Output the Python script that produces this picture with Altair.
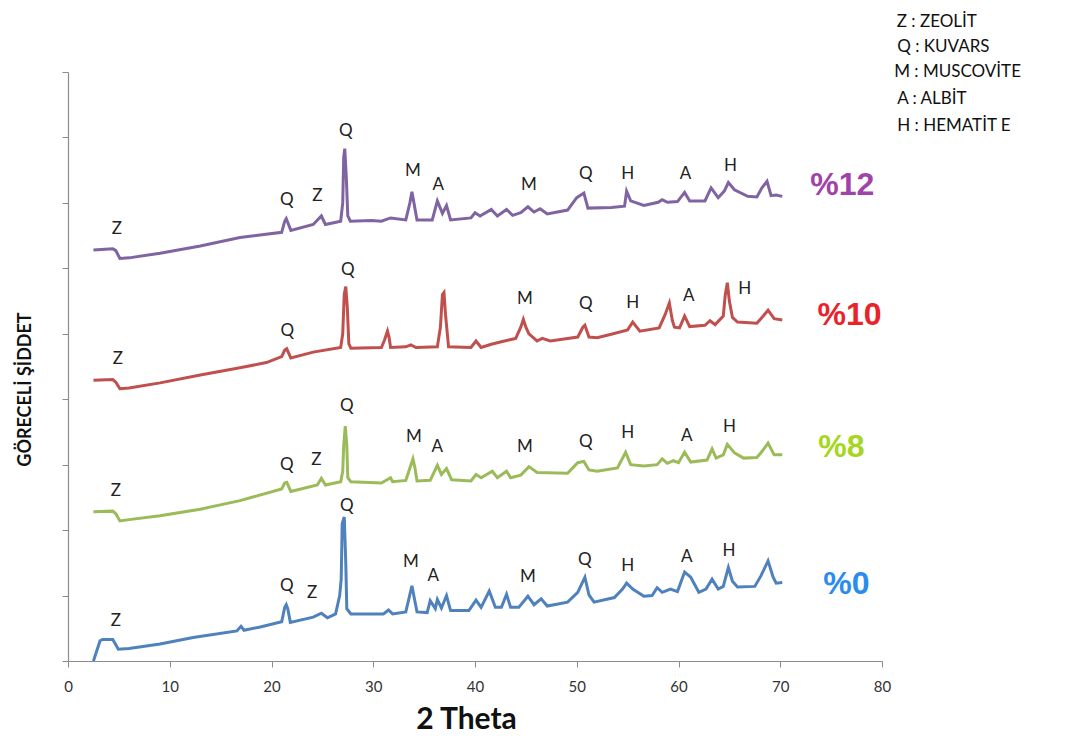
import altair as alt
import pandas as pd

# ---- traces (2-theta, relative intensity incl. vertical offset) ----
theta_0 = [2.5, 3.15, 3.4, 4.4, 4.95, 6.0, 9.05, 12.3, 16.6, 17.0, 17.3, 18.9, 21.0, 21.3, 21.45, 21.6, 21.85,
           24.1, 24.9, 25.5, 26.3, 26.7, 26.85, 26.95, 27.15, 27.3, 27.4, 27.8, 31.0, 31.5, 31.9, 33.2, 33.8, 34.3,
           35.3, 35.6, 36.1, 36.3, 36.7, 37.2, 37.6, 39.4, 40.1, 40.6, 41.4, 42.0, 42.6, 43.1, 43.5, 44.3, 45.2,
           45.8, 46.5, 47.1, 49.1, 50.1, 50.8, 51.2, 51.7, 53.7, 54.5, 54.9, 55.5, 56.6, 57.4, 57.9, 58.4, 59.2,
           59.9, 60.6, 61.2, 62.0, 62.7, 63.3, 63.9, 64.4, 64.9, 65.3, 65.8, 67.5, 68.1, 68.8, 69.3, 69.6, 70.2]
int_0 = [0.0, 0.31, 0.33, 0.33, 0.18, 0.19, 0.26, 0.36, 0.46, 0.53, 0.47, 0.52, 0.6, 0.82, 0.86, 0.8, 0.59,
         0.67, 0.73, 0.66, 0.72, 1.0, 1.25, 2.1, 2.2, 1.5, 0.8, 0.72, 0.72, 0.78, 0.72, 0.75, 1.15, 0.75,
         0.74, 0.92, 0.8, 0.94, 0.81, 1.0, 0.77, 0.77, 0.93, 0.82, 1.07, 0.82, 0.82, 1.02, 0.82, 0.82, 0.99,
         0.86, 0.95, 0.84, 0.9, 1.05, 1.28, 1.01, 0.9, 0.97, 1.1, 1.19, 1.1, 0.99, 1.0, 1.12, 1.05, 1.1,
         1.06, 1.36, 1.28, 1.05, 1.1, 1.25, 1.1, 1.14, 1.43, 1.22, 1.13, 1.14, 1.3, 1.53, 1.28, 1.19, 1.2]

theta_8 = [2.5, 4.4, 4.7, 5.1, 6.0, 9.05, 13.0, 16.9, 21.0, 21.3, 21.5, 21.7, 21.9, 24.5, 24.9, 25.3, 26.8,
           27.0, 27.1, 27.25, 27.4, 27.5, 27.8, 30.8, 31.7, 31.9, 33.2, 33.6, 33.9, 34.1, 34.3, 35.6, 36.3,
           36.7, 37.2, 37.7, 39.6, 40.1, 40.6, 41.7, 42.2, 43.1, 43.5, 44.5, 45.3, 46.1, 49.1, 50.1, 50.7,
           51.2, 52.0, 54.0, 54.8, 55.3, 56.6, 57.9, 58.4, 58.9, 59.5, 60.0, 60.6, 61.2, 62.8, 63.3, 63.7,
           64.4, 64.8, 65.5, 66.4, 67.7, 68.2, 68.8, 69.4, 70.2]
int_8 = [2.28, 2.29, 2.25, 2.14, 2.16, 2.22, 2.32, 2.45, 2.63, 2.72, 2.73, 2.66, 2.59, 2.69, 2.79, 2.69, 2.74,
         2.9, 3.3, 3.59, 3.3, 2.8, 2.74, 2.72, 2.8, 2.74, 2.76, 2.95, 3.09, 2.95, 2.75, 2.76, 2.99,
         2.85, 2.94, 2.77, 2.75, 2.85, 2.8, 2.9, 2.8, 2.9, 2.8, 2.84, 2.97, 2.88, 2.87, 3.03, 3.05,
         2.92, 2.9, 2.95, 3.19, 3.0, 2.98, 3.0, 3.09, 3.02, 3.06, 3.03, 3.19, 3.04, 3.07, 3.24, 3.1,
         3.15, 3.31, 3.18, 3.1, 3.11, 3.2, 3.33, 3.15, 3.15]

theta_10 = [2.5, 4.4, 4.7, 5.1, 6.0, 9.05, 13.0, 16.9, 19.5, 21.0, 21.3, 21.5, 21.7, 21.9, 24.1, 26.8, 27.0,
            27.15, 27.3, 27.45, 27.6, 27.8, 30.8, 31.1, 31.4, 31.55, 31.7, 33.2, 33.7, 34.2, 36.3, 36.6, 36.8,
            36.95, 37.1, 37.4, 39.6, 40.1, 40.6, 41.6, 42.9, 44.0, 44.5, 44.75, 45.0, 45.3, 46.1, 46.6, 47.4,
            50.1, 50.6, 50.8, 51.2, 52.0, 53.3, 55.0, 55.5, 56.2, 58.1, 58.7, 59.1, 59.4, 59.6, 60.1, 60.6,
            61.1, 62.6, 63.1, 63.6, 64.4, 64.6, 64.8, 65.0, 65.3, 65.8, 67.7, 68.2, 68.8, 69.4, 70.2]
int_10 = [4.29, 4.3, 4.26, 4.16, 4.17, 4.25, 4.37, 4.48, 4.56, 4.65, 4.75, 4.77, 4.7, 4.63, 4.72, 4.79, 5.0,
          5.6, 5.72, 5.4, 4.85, 4.78, 4.79, 4.9, 5.04, 4.95, 4.79, 4.8, 4.83, 4.79, 4.8, 5.1, 5.6,
          5.63, 5.3, 4.8, 4.79, 4.89, 4.79, 4.84, 4.89, 4.93, 5.1, 5.22, 5.1, 5.0, 4.89, 4.93, 4.89,
          4.95, 5.1, 5.13, 4.95, 4.94, 4.99, 5.06, 5.18, 5.04, 5.09, 5.3, 5.47, 5.2, 5.1, 5.09, 5.27,
          5.11, 5.13, 5.2, 5.14, 5.27, 5.6, 5.78, 5.5, 5.25, 5.18, 5.16, 5.25, 5.36, 5.23, 5.21]

theta_12 = [2.5, 4.4, 4.7, 5.1, 6.0, 9.05, 13.0, 16.9, 21.0, 21.3, 21.45, 21.6, 21.9, 24.1, 24.9, 25.3, 26.8,
            27.0, 27.1, 27.2, 27.35, 27.5, 27.75, 29.8, 30.8, 31.7, 33.2, 33.6, 33.8, 34.0, 34.3, 35.8, 36.3,
            36.8, 37.2, 37.6, 39.6, 40.0, 40.5, 41.6, 42.2, 43.1, 43.7, 44.5, 45.2, 45.8, 46.4, 47.1, 49.1,
            50.0, 50.7, 51.1, 53.4, 54.7, 54.9, 55.3, 56.6, 58.0, 58.4, 58.9, 59.9, 60.6, 61.1, 62.6, 63.2,
            63.9, 64.5, 64.9, 65.5, 66.8, 67.7, 68.2, 68.7, 69.1, 69.6, 70.2]
int_12 = [6.28, 6.3, 6.27, 6.15, 6.16, 6.23, 6.34, 6.47, 6.55, 6.72, 6.76, 6.7, 6.58, 6.67, 6.8, 6.67, 6.72,
          7.0, 7.7, 7.83, 7.4, 6.8, 6.72, 6.73, 6.72, 6.77, 6.74, 7.0, 7.17, 7.0, 6.74, 6.74, 7.03,
          6.84, 6.96, 6.74, 6.77, 6.85, 6.8, 6.9, 6.8, 6.9, 6.81, 6.85, 6.94, 6.86, 6.91, 6.83, 6.89,
          7.08, 7.15, 6.92, 6.93, 6.95, 7.18, 7.03, 6.96, 7.01, 7.05, 7.01, 7.02, 7.16, 7.03, 7.03, 7.23,
          7.08, 7.18, 7.31, 7.2, 7.1, 7.09, 7.23, 7.33, 7.11, 7.12, 7.1]

series_names = ["%0", "%8", "%10", "%12"]
line_colors = ["#4f81bd", "#9bbb59", "#c0504d", "#8064a2"]
label_colors = ["#2b8cf0", "#a6d71e", "#e8232b", "#a043a8"]
label_x = [76.5, 76.0, 76.8, 76.1]
label_y = [1.18, 3.27, 5.28, 7.28]

# ---- phase annotations ----
ann_letter = ["Z", "Q", "Z", "Q", "M", "A", "M", "Q", "H", "A", "H",
              "Z", "Q", "Z", "Q", "M", "A", "M", "Q", "H", "A", "H",
              "Z", "Q", "Q", "M", "Q", "H", "A", "H",
              "Z", "Q", "Z", "Q", "M", "A", "M", "Q", "H", "A", "H"]
ann_x = [4.7, 21.5, 24.0, 27.4, 33.7, 35.9, 45.2, 50.8, 55.0, 60.8, 64.95,
         4.7, 21.5, 24.4, 27.4, 34.0, 36.3, 44.9, 50.9, 55.0, 60.8, 65.0,
         4.9, 21.55, 27.5, 44.9, 50.9, 55.5, 61.0, 66.5,
         4.8, 21.5, 24.5, 27.3, 33.9, 36.4, 45.3, 50.9, 55.0, 60.7, 65.1]
ann_y = [0.61, 1.15, 1.04, 2.37, 1.51, 1.30, 1.28, 1.54, 1.45, 1.59, 1.68,
         2.60, 3.00, 3.07, 3.89, 3.42, 3.27, 3.27, 3.34, 3.48, 3.44, 3.57,
         4.61, 5.05, 5.98, 5.53, 5.45, 5.47, 5.57, 5.69,
         6.60, 7.04, 7.11, 8.10, 7.48, 7.28, 7.28, 7.44, 7.44, 7.44, 7.57]

key_text = ["Z : ZEOLİT", "Q : KUVARS", "M : MUSCOVİTE", "A : ALBİT", "H : HEMATİT E"]
key_x = [81.45, 81.5, 81.2, 81.5, 81.5]
key_y = [9.76, 9.38, 9.0, 8.58, 8.18]

rows = []
for name, xs_, ys_ in zip(series_names, [theta_0, theta_8, theta_10, theta_12], [int_0, int_8, int_10, int_12]):
    for a, b in zip(xs_, ys_):
        rows.append({"series": name, "theta": a, "intensity": b})
df = pd.DataFrame(rows)

ann_df = pd.DataFrame({"letter": ann_letter, "theta": ann_x, "intensity": ann_y})
lab_df = pd.DataFrame({"name": series_names, "theta": label_x, "intensity": label_y, "col": label_colors})
key_df = pd.DataFrame({"t": key_text, "theta": key_x, "intensity": key_y})

xs = alt.Scale(domain=[0, 80], nice=False, zero=False)
ys = alt.Scale(domain=[0, 9], nice=False, zero=False)

x_axis = alt.Axis(values=list(range(0, 81, 10)), title="2 Theta", grid=False, labelFlush=False,
                  labelPadding=12, titleFontSize=30, titleFontWeight="bold",
                  titleX=398, titleY=43, titleColor="#111")
y_axis = alt.Axis(values=list(range(0, 10)), labels=False, title="GÖRECELİ ŞİDDET", grid=False,
                  titleFontSize=18, titleFontWeight="bold", titleX=-34, titleY=317,
                  titleColor="#111")

X = alt.X("theta:Q", scale=xs, axis=x_axis, title="2 Theta")
Y = alt.Y("intensity:Q", scale=ys, axis=y_axis, title="GÖRECELİ ŞİDDET")

lines = alt.Chart(df).mark_line(strokeWidth=3, clip=False).encode(
    x=X, y=Y,
    color=alt.Color("series:N", scale=alt.Scale(domain=series_names, range=line_colors), legend=None),
)

ann = alt.Chart(ann_df).mark_text(font="Lato", fontSize=17, color="#222", baseline="middle", align="center").encode(
    x=X, y=Y, text="letter:N",
)

labs = alt.Chart(lab_df).mark_text(font="Liberation Sans", fontSize=32, fontWeight="bold",
                                   baseline="middle", align="center").encode(
    x=X, y=Y, text="name:N",
    color=alt.Color("col:N", scale=None),
)

keys = alt.Chart(key_df).mark_text(font="Lato", fontSize=17, color="#111", baseline="middle", align="left").encode(
    x=X, y=Y, text="t:N",
)

chart = alt.layer(lines, ann, labs, keys).resolve_scale(color="independent").properties(
    width=814, height=589,
    autosize=alt.AutoSizeParams(type="none"),
    padding={"left": 60, "top": 64, "right": 170, "bottom": 74},
).configure_view(stroke=None).configure_axis(
    domainColor="#8c8c8c", tickColor="#8c8c8c", tickSize=6, domainWidth=1.2,
    labelFont="Lato", labelFontSize=15, labelColor="#333", titleFont="Lato",
)

chart.save("out.html", embed_options={"renderer": "svg", "actions": False})
